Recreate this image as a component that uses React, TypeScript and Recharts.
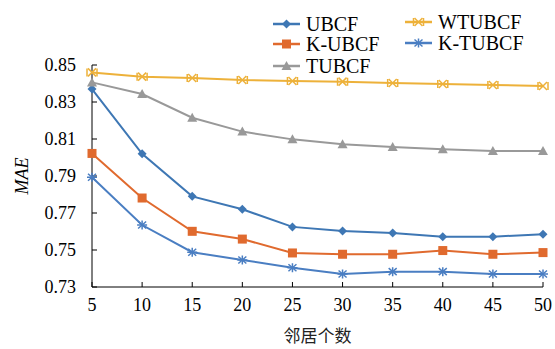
import React from "react";
import { LineChart, Line, XAxis, YAxis, Legend, Label } from "recharts";

// neighbour counts on the x axis
const neighbours = [5, 10, 15, 20, 25, 30, 35, 40, 45, 50];
const yTicks = [0.73, 0.75, 0.77, 0.79, 0.81, 0.83, 0.85];

const ubcf = [0.837, 0.802, 0.779, 0.772, 0.7625, 0.7603, 0.7592, 0.7572, 0.7572, 0.7585];
const kUbcf = [0.8022, 0.7781, 0.7601, 0.7559, 0.7484, 0.7477, 0.7477, 0.7497, 0.7477, 0.7486];
const tubcf = [0.8406, 0.8343, 0.8215, 0.814, 0.8098, 0.8071, 0.8057, 0.8044, 0.8035, 0.8035];
const wtubcf = [0.846, 0.8437, 0.843, 0.8419, 0.8414, 0.841, 0.8403, 0.8397, 0.8392, 0.8386];
const kTubcf = [0.7893, 0.7635, 0.7488, 0.7446, 0.7404, 0.737, 0.7383, 0.7383, 0.737, 0.737];

const data = neighbours.map((k, i) => ({
    k,
    UBCF: ubcf[i],
    "K-UBCF": kUbcf[i],
    TUBCF: tubcf[i],
    WTUBCF: wtubcf[i],
    "K-TUBCF": kTubcf[i]
}));

type Shape = "diamond" | "square" | "triangle" | "xbar" | "star";

const series: { key: string; color: string; shape: Shape }[] = [
    { key: "UBCF", color: "#3E77B4", shape: "diamond" },
    { key: "K-UBCF", color: "#E06A2E", shape: "square" },
    { key: "TUBCF", color: "#999999", shape: "triangle" },
    { key: "WTUBCF", color: "#EDB13A", shape: "xbar" },
    { key: "K-TUBCF", color: "#4A7EC2", shape: "star" }
];

const serif = "Liberation Serif";

function marker(shape: Shape, color: string, cx: number, cy: number) {
    switch (shape) {
        case "diamond":
            return (
                <path
                    d={`M${cx},${cy - 4.5}L${cx + 4.5},${cy}L${cx},${cy + 4.5}L${cx - 4.5},${cy}Z`}
                    fill={color}
                />
            );
        case "square":
            return <rect x={cx - 4.5} y={cy - 4.5} width={9} height={9} fill={color} />;
        case "triangle":
            return (
                <path
                    d={`M${cx},${cy - 5}L${cx + 5},${cy + 4}L${cx - 5},${cy + 4}Z`}
                    fill={color}
                />
            );
        case "xbar":
            return (
                <g stroke={color} strokeWidth={1.5} fill="none">
                    <path d={`M${cx - 4},${cy - 4}L${cx + 4},${cy + 4}M${cx - 4},${cy + 4}L${cx + 4},${cy - 4}`} />
                    <path d={`M${cx - 5},${cy - 4}L${cx - 5},${cy + 4}M${cx + 5},${cy - 4}L${cx + 5},${cy + 4}`} />
                </g>
            );
        case "star":
            return (
                <g stroke={color} strokeWidth={1.5} fill="none">
                    <path d={`M${cx - 4},${cy - 3.5}L${cx + 4},${cy + 3.5}M${cx - 4},${cy + 3.5}L${cx + 4},${cy - 3.5}`} />
                    <path d={`M${cx},${cy - 4.5}L${cx},${cy + 4.5}M${cx - 5},${cy}L${cx + 5},${cy}`} />
                </g>
            );
    }
}

const makeDot = (shape: Shape, color: string) => (props: any) => {
    const { cx, cy, index } = props;
    return <g key={`dot-${shape}-${index}`}>{marker(shape, color, cx, cy)}</g>;
};

const XTick = (props: any) => {
    const { x, y, payload } = props;
    return (
        <text x={x} y={y} dy={14} textAnchor="middle" style={{ fontFamily: serif, fontSize: 18, fill: "#000" }}>
            {payload.value}
        </text>
    );
};

const YTick = (props: any) => {
    const { x, y, payload } = props;
    return (
        <text x={x} y={y} dy={6} textAnchor="end" style={{ fontFamily: serif, fontSize: 18, fill: "#000" }}>
            {Number(payload.value).toFixed(2)}
        </text>
    );
};

// legend laid out in two columns like the original
const legendPos: Record<string, { x: number; y: number }> = {
    UBCF: { x: 272, y: 24 },
    "K-UBCF": { x: 272, y: 44 },
    TUBCF: { x: 272, y: 66 },
    WTUBCF: { x: 404, y: 22 },
    "K-TUBCF": { x: 404, y: 43 }
};

function ChartLegend() {
    return (
        <div style={{ position: "absolute", left: 0, top: 0, width: 555, height: 80 }}>
            {series.map((s) => {
                const p = legendPos[s.key];
                return (
                    <div
                        key={s.key}
                        style={{
                            position: "absolute",
                            left: p.x,
                            top: p.y - 12,
                            height: 24,
                            display: "flex",
                            alignItems: "center",
                            fontFamily: serif,
                            fontSize: 20,
                            color: "#000",
                            whiteSpace: "nowrap"
                        }}
                    >
                        <svg width={34} height={24}>
                            <line x1={1} y1={12} x2={28} y2={12} stroke={s.color} strokeWidth={2.5} />
                            {marker(s.shape, s.color, 14.5, 12)}
                        </svg>
                        <span>{s.key}</span>
                    </div>
                );
            })}
        </div>
    );
}

export default function App() {
    return (
        <div
            style={{
                position: "absolute",
                left: 0,
                top: 0,
                width: 555,
                height: 349,
                background: "#fff",
                fontFamily: serif
            }}
        >
            <LineChart
                width={555}
                height={349}
                data={data}
                margin={{ top: 65, right: 12, left: 0, bottom: 0 }}
            >
                <XAxis
                    dataKey="k"
                    type="number"
                    domain={[5, 50]}
                    ticks={neighbours}
                    height={62}
                    stroke="#000"
                    tickSize={-5}
                    tickMargin={15}
                    tick={<XTick />}
                >
                    <Label
                        value="邻居个数"
                        position="insideBottom"
                        offset={7}
                        style={{ fill: "#222", fontSize: 17, fontFamily: "Noto Sans CJK SC" }}
                    />
                </XAxis>
                <YAxis
                    type="number"
                    domain={[0.73, 0.85]}
                    ticks={yTicks}
                    width={92}
                    stroke="#000"
                    tickSize={-5}
                    tickMargin={21}
                    tick={<YTick />}
                >
                    <Label
                        content={() => (
                            <text
                                x={22}
                                y={176}
                                transform="rotate(-90 22 176)"
                                textAnchor="middle"
                                dominantBaseline="central"
                                style={{ fontFamily: serif, fontStyle: "italic", fontSize: 18, fill: "#000" }}
                            >
                                MAE
                            </text>
                        )}
                    />
                </YAxis>
                <Legend content={() => <ChartLegend />} wrapperStyle={{ position: "absolute", left: 0, top: 0 }} />
                {series.map((s) => (
                    <Line
                        key={s.key}
                        type="linear"
                        dataKey={s.key}
                        stroke={s.color}
                        strokeWidth={2}
                        dot={makeDot(s.shape, s.color)}
                        activeDot={false}
                        isAnimationActive={false}
                    />
                ))}
            </LineChart>
        </div>
    );
}
